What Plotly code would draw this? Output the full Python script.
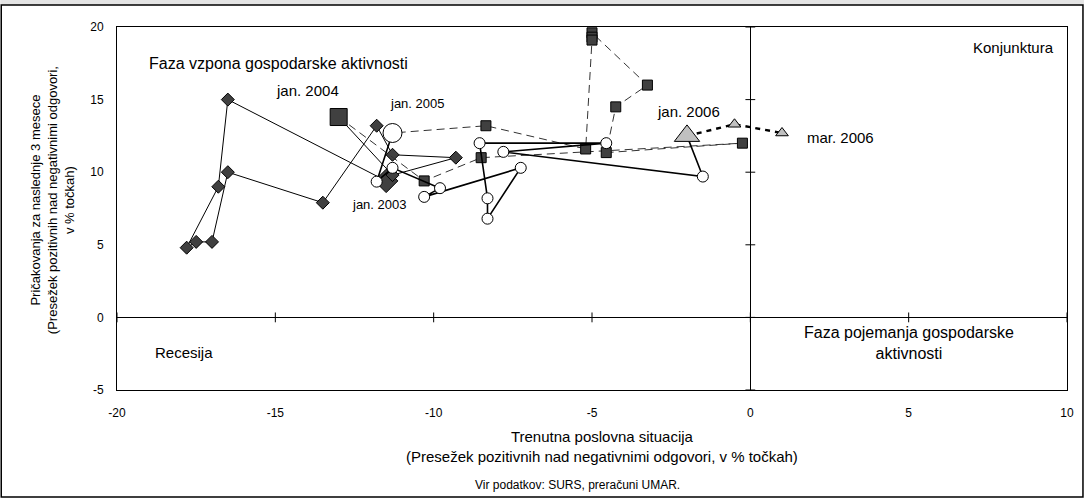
import plotly.graph_objects as go

# business tendency loop: current situation (x) vs expectations (y), monthly
x_2003 = [-11.5, -16.5, -16.8, -17.8, -17.5, -17.0, -16.5, -13.5, -11.8, -11.3, -9.3, -11.3]
y_2003 = [9.4, 15.0, 9.0, 4.8, 5.2, 5.2, 10.0, 7.9, 13.2, 11.2, 11.0, 9.8]

x_2004 = [-13.0, -10.3, -8.5, -0.25, -4.55, -4.25, -3.25, -5.0, -5.0, -5.0, -5.2, -8.35]
y_2004 = [13.8, 9.4, 11.0, 12.0, 11.35, 14.5, 16.0, 19.6, 19.3, 19.1, 11.6, 13.2]

x_2005 = [-11.3, -11.8, -11.3, -9.8, -10.3, -7.25, -8.3, -8.3, -8.55, -4.55, -7.8, -1.5]
y_2005 = [12.7, 9.35, 10.3, 8.9, 8.3, 10.3, 6.8, 8.2, 12.0, 12.0, 11.4, 9.7]

x_2006 = [-2.0, -0.5, 1.0]
y_2006 = [12.5, 13.3, 12.7]

x_ticks = [-20, -15, -10, -5, 0, 5, 10]
y_ticks = [-5, 0, 5, 10, 15, 20]

FONT = "Liberation Sans, Arial, sans-serif"
DARK = "#404040"

W, H = 1086, 498
L, R, T, B = 117, 17, 27, 108
PW, PH = W - L - R, H - T - B


def px(x):
    return (x - L) / PW


def py(y):
    return (H - B - y) / PH


fig = go.Figure()

series = [
    # x, y, next jan (x, y), symbol, fill, small, big, line
    (x_2003, y_2003, (x_2004[0], y_2004[0]), "diamond", DARK, 10, 18, dict(color="black", width=1)),
    (x_2004, y_2004, (x_2005[0], y_2005[0]), "square", DARK, 10, 17, dict(color="#333333", width=1, dash="8px,5px")),
    (x_2005, y_2005, (x_2006[0], y_2006[0]), "circle", "white", 11, 19, dict(color="black", width=1.6)),
    (x_2006, y_2006, None, "triangle-up", "#c0c0c0", 11, 22, dict(color="black", width=2.4, dash="5px,5px")),
]

for xs, ys, nxt, sym, fill, small, big, line in series:
    lx, ly = list(xs), list(ys)
    if nxt:
        lx.append(nxt[0])
        ly.append(nxt[1])
    fig.add_trace(go.Scatter(x=lx, y=ly, mode="lines", line=line, hoverinfo="skip"))
    fig.add_trace(
        go.Scatter(
            x=xs,
            y=ys,
            mode="markers",
            marker=dict(
                symbol=sym,
                size=[big] + [small] * (len(xs) - 1),
                color=fill,
                opacity=1,
                line=dict(color="black", width=1),
            ),
        )
    )

# crossing axes with tick marks (Excel style)
fig.add_trace(go.Scatter(x=x_ticks, y=[0] * len(x_ticks), mode="markers", hoverinfo="skip",
                         marker=dict(symbol="line-ns", size=7, line=dict(color="black", width=1))))
fig.add_trace(go.Scatter(x=[0] * len(y_ticks), y=y_ticks, mode="markers", hoverinfo="skip",
                         marker=dict(symbol="line-ew", size=7, line=dict(color="black", width=1))))

labels = [
    ("Faza vzpona gospodarske aktivnosti", -14.9, 17.5, 16),
    ("Konjunktura", 8.3, 18.6, 15),
    ("Recesija", -17.9, -2.4, 15),
    ("Faza pojemanja gospodarske<br>aktivnosti", 5.0, -1.75, 16),
    ("jan. 2004", -14.0, 15.6, 15),
    ("jan. 2005", -10.5, 14.7, 13),
    ("jan. 2003", -11.7, 7.75, 13),
    ("jan. 2006", -1.95, 14.2, 15),
    ("mar. 2006", 2.85, 12.4, 15),
]
for text, x, y, size in labels:
    fig.add_annotation(x=x, y=y, text=text, showarrow=False,
                       font=dict(family=FONT, size=size, color="black"))

fig.add_annotation(
    xref="paper", yref="paper", x=px(603), y=py(446), xanchor="center", yanchor="middle",
    showarrow=False, align="center",
    text="Trenutna poslovna situacija<br>(Presežek pozitivnih nad negativnimi odgovori, v % točkah)",
    font=dict(family=FONT, size=15, color="black"),
)
fig.add_annotation(
    xref="paper", yref="paper", x=px(578), y=py(485), xanchor="center", yanchor="middle",
    showarrow=False, text="Vir podatkov: SURS, preračuni UMAR.",
    font=dict(family=FONT, size=12, color="black"),
)
fig.add_annotation(
    xref="paper", yref="paper", x=px(52), y=py(200), xanchor="center", yanchor="middle",
    showarrow=False, textangle=-90, align="center",
    text="Pričakovanja za naslednje 3 mesece<br>(Presežek pozitivnih nad negativnimi odgovori,<br>v % točkah)",
    font=dict(family=FONT, size=13, color="black"),
)

# frame and cut-off title band
fig.add_shape(type="rect", xref="paper", yref="paper", x0=px(0), x1=px(W), y0=py(0), y1=py(5),
              fillcolor="#e4e4e4", line=dict(width=0))
fig.add_shape(type="rect", xref="paper", yref="paper", x0=px(1), x1=px(W - 1), y0=py(H - 1), y1=py(5),
              line=dict(color="black", width=1.5))

fig.update_layout(
    width=W,
    height=H,
    showlegend=False,
    paper_bgcolor="white",
    plot_bgcolor="white",
    margin=dict(l=L, r=R, t=T, b=B),
    font=dict(family=FONT, size=12, color="black"),
)
fig.update_xaxes(
    range=[-20, 10], tickvals=x_ticks, ticktext=[str(v) for v in x_ticks], showgrid=False,
    zeroline=True, zerolinecolor="black", zerolinewidth=1,
    showline=True, linecolor="black", linewidth=1, mirror=True,
    ticks="", ticklabelstandoff=12,
)
fig.update_yaxes(
    range=[-5, 20], tickvals=y_ticks, ticktext=[str(v) for v in y_ticks], showgrid=False,
    zeroline=True, zerolinecolor="black", zerolinewidth=1,
    showline=True, linecolor="black", linewidth=1, mirror=True,
    ticks="", ticklabelstandoff=10,
)

fig.write_html(
    "out.html",
    config={"displayModeBar": False},
    post_script="document.body.style.margin='0';",
)
